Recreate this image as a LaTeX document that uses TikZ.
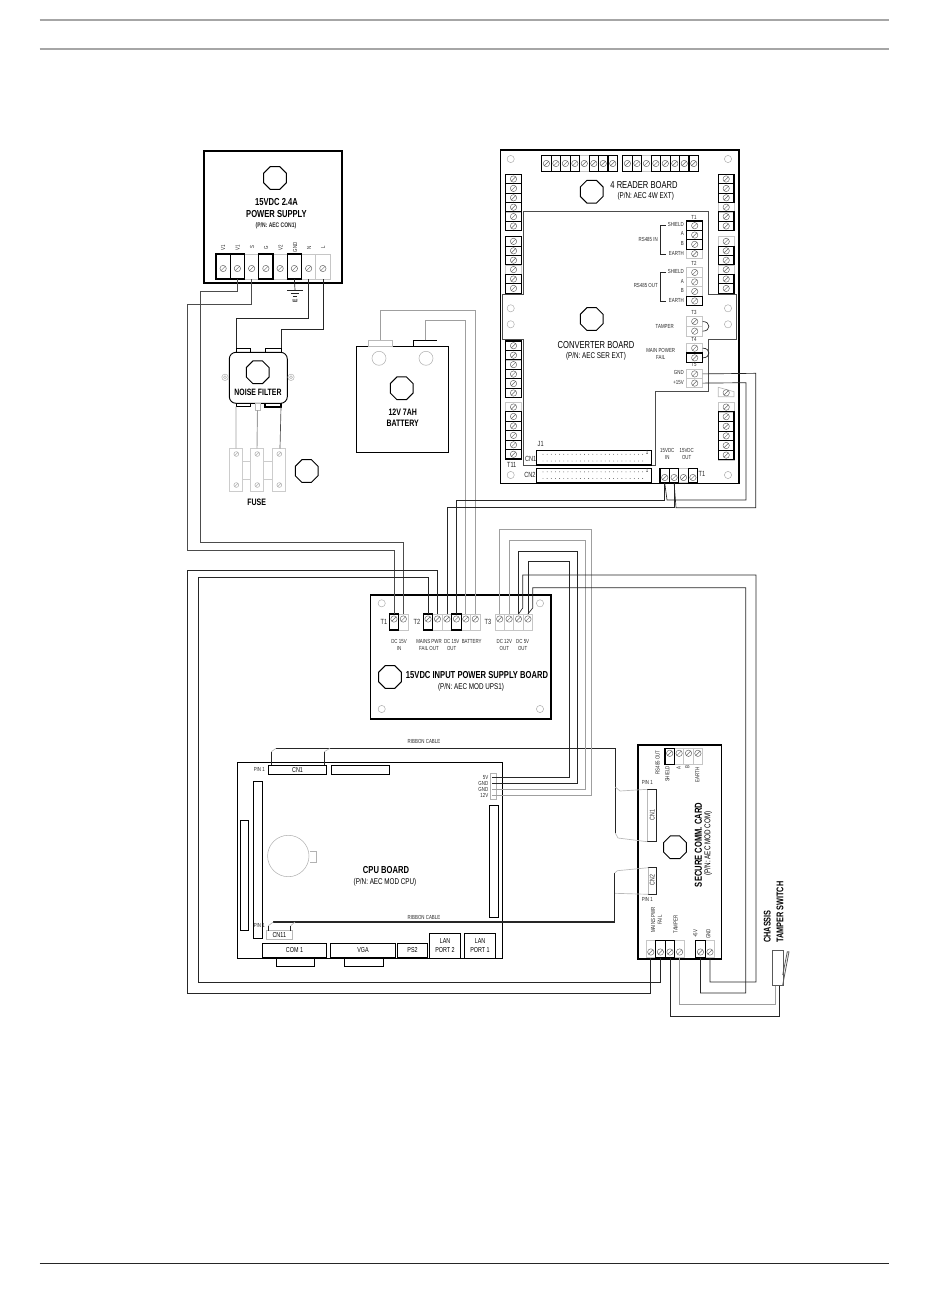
\documentclass[tikz,border=0pt]{standalone}
\usepackage{fontspec}
\setmainfont[FakeStretch=0.75]{Liberation Sans}
\usetikzlibrary{shapes.geometric,calc}

% Terminal strips: name, start, pitch, size, screw offset, count, black ones
\newcommand{\hstrip}[8]{
  \foreach \k in {1,...,#7} {
    \node[trm={#4}{#5}{#6}] (#1\k) at ({#2+(\k-0.5)*#4},#3) {};
  }
  \foreach \k in {#8} {
    \ifnum\k>0 \draw[trmb] (#1\k.south west) rectangle (#1\k.north east); \fi
  }
}
\newcommand{\vstrip}[7]{
  \foreach \k in {1,...,#6} {
    \node[trm={#4}{#5}{0}] (#1\k) at (#2,{#3+(\k-0.5)*#5}) {};
  }
  \foreach \k in {#7} {
    \ifnum\k>0 \draw[trmb] (#1\k.south west) rectangle (#1\k.north east); \fi
  }
}
% Box between two corners, as a named node
\newcommand{\boxn}[7][]{
  \node[plain, #1, minimum width={(#5-#3)*0.75pt}, minimum height={(#6-#4)*0.75pt}] (#2) at ({(#3+#5)/2},{(#4+#6)/2}) {#7};
}

\tikzset{
  plain/.style={draw=black, line width=0.7pt, inner sep=0pt, outer sep=0pt, align=center, font=\fontsize{5.4}{6.6}\selectfont},
  board/.style={line width=1.1pt},
  pale/.style={draw=gray!55, line width=0.5pt},
  trm/.style n args={3}{draw=gray!45, line width=0.5pt, inner sep=0pt, outer sep=0pt,
    minimum width=#1*0.75pt, minimum height=#2*0.75pt,
    path picture={\draw[gray!80!black, line width=0.35pt] ([yshift=#3*0.75pt]path picture bounding box.center) circle (2.4pt) +(-1.7pt,-1.7pt) -- +(1.7pt,1.7pt);}},
  trmb/.style={draw=black, line width=0.8pt},
  octa/.style={draw=black, line width=0.7pt, regular polygon, regular polygon sides=8, minimum size=18.5pt, inner sep=0pt},
  hole/.style={draw=gray!60, line width=0.4pt},
  wire/.style={draw=black!85, line width=0.5pt},
  wireg/.style={draw=gray!75, line width=0.7pt},
  rule/.style={draw=gray!70, line width=1.3pt},
  ttl/.style={inner sep=0pt, align=center, font=\bfseries\fontsize{7.6}{9}\selectfont},
  ttlr/.style={inner sep=0pt, align=center, font=\fontsize{7.6}{9}\selectfont},
  sublbl/.style={inner sep=0pt, align=center, font=\fontsize{6.3}{7.2}\selectfont},
  lbl/.style={inner sep=0pt, align=center, text=black!85, font=\fontsize{4.4}{5.1}\selectfont},
}

\begin{document}
\begin{tikzpicture}[x=0.75pt,y=-0.75pt]
  \useasboundingbox (0,0) rectangle (950,1289);

  % Page rules
  \draw[rule] (39.5,20) -- (889,20);
  \draw[rule] (39.5,49) -- (889,49);
  \draw[gray!30!black, line width=0.9pt] (39.5,1263.3) -- (889,1263.3);

  % Power supply
  \boxn[line width=1.9pt]{psu}{204}{151}{342}{283}{}
  \hstrip{ps}{216}{266.5}{14.25}{25}{-2}{8}{1,2,4,6}
  \node[ttl] (psuTitle) at (276.5,208) {15VDC 2.4A\\POWER SUPPLY};
  \node[lbl, font=\fontsize{5}{6}\bfseries\selectfont] (psuPn) at (276,226) {(P/N: AEC CON1)};
  \foreach \tx/\ta [count=\n] in {223/V1,237.5/V1,252/S,266/G,280.5/V2,295/GND,309/N,323/L} {
    \node[lbl, rotate=90] (psuLbl\n) at (\tx,247.5) {\ta};
  }
  % Earth
  \coordinate (earthTop) at (295,290);
  \draw[wire] (ps6.south) -- (earthTop);
  \draw[wire] (287.3,290) -- (302.7,290) (290.7,293.3) -- (299.3,293.3) (293.3,296) -- (296.7,296);
  \node[lbl, rotate=90, font=\fontsize{5}{6}\bfseries\selectfont] (earthLbl) at (295,301) {E};

  % Noise filter and fuse
  \boxn[rounded corners=5pt]{flt}{229.3}{352.3}{287.3}{403.3}{}
  \boxn{fltIn1}{236.7}{348.3}{250.7}{352.3}{}
  \boxn{fltIn2}{265.3}{348.3}{281}{352.3}{}
  \boxn{fltOut1}{236}{403.3}{250.7}{406.5}{}
  \boxn[pale]{fltOut2}{255}{403.3}{260}{410}{}
  \boxn[line width=1pt]{fltOut3}{265}{403.3}{281}{407}{}
  \draw[hole] (225,377.3) circle (3.2) (291,377.3) circle (3.2);
  \draw[hole] (225,377.3) circle (1.5) (291,377.3) circle (1.5);
  \node[ttl, font=\bfseries\fontsize{6.9}{8}\selectfont] (fltLbl) at (258,392.3) {NOISE FILTER};
  \foreach \fx/\fb in {229.3/a,250.3/b,272.3/c} {
    \boxn[pale, draw=gray!40]{fuse\fb}{\fx}{448.3}{\fx+13.4}{491}{}
    \draw[hole] (\fx+7,454) circle (2.4) +(-1.6,1.6) -- +(1.6,-1.6);
    \draw[hole] (\fx+7,485) circle (2.4) +(-1.6,1.6) -- +(1.6,-1.6);
  }
  \draw[draw=gray!40, line width=0.5pt] (fuseb.west |- 0,461.7) -- (fusea.east |- 0,461.7);
  \draw[draw=gray!40, line width=0.5pt] (fuseb.west |- 0,479.3) -- (fusea.east |- 0,479.3);
  \draw[draw=gray!40, line width=0.5pt] (fuseb.east |- 0,461.7) -- (fusec.west |- 0,461.7);
  \draw[draw=gray!40, line width=0.5pt] (fuseb.east |- 0,479.3) -- (fusec.west |- 0,479.3);
  \node[ttl, font=\bfseries\fontsize{7}{8}\selectfont] (fuseLbl) at (256.7,502.3) {FUSE};
  \draw[wireg] (fltOut1.south west) -- (fusea.north);
  \draw[wireg] (fltOut2.south) -- (fuseb.north);
  \draw[wire, draw=gray!60!black] (fltOut3.south east) -- (280,448.3);

  % Battery
  \boxn{bat}{356.7}{346}{448.3}{452.7}{}
  \boxn[pale]{batP1}{368.3}{340.3}{392.7}{346}{}
  \boxn[draw=none]{batP2}{413.3}{340.3}{436.7}{346}{}
  \draw[line width=0.9pt] (batP2.north west) -- (batP2.north east);
  \draw[line width=0.6pt] (batP2.north west) -- (batP2.south west);
  \draw[hole] (379,358.3) circle (7) (426,358.3) circle (7);
  \node[ttl, font=\bfseries\fontsize{7}{8.6}\selectfont] (batLbl) at (402.7,418) {12V 7AH\\BATTERY};

  % 4 reader board with converter board
  \boxn[board]{rdr}{500.7}{150}{739}{483.3}{}
  \draw[gray!60!black, line width=0.7pt] (523.3,211.7) -- (708.3,211.7) -- (708.3,294.3) -- (736,294.3) -- (736,339.3) -- (708.3,339.3) -- (708.3,391.7) -- (655,391.7) -- (655,465) -- (523.3,465) -- (523.3,339.3) -- (502.3,339.3) -- (502.3,294.3) -- (523.3,294.3) -- cycle;
  \foreach \hx/\hy in {510.7/159,728/159,510.7/308.3,510.7/324.3,728/308.3,728/324.3,510.7/475,728/475} {
    \draw[hole] (\hx,\hy) circle (3.6);
  }
  \hstrip{rdTa}{541.7}{163.5}{9.47}{15.6}{0}{8}{1,2,3,4,6,7,8}
  \hstrip{rdTb}{622.7}{163.5}{9.47}{15.6}{0}{8}{1,2,4,5,6,7,8}
  \vstrip{rdLa}{513.5}{174.3}{15.6}{9.4}{6}{1,2,3,4,5,6}
  \vstrip{rdLb}{513.5}{236.7}{15.6}{9.4}{6}{1,2,3,5,6}
  \vstrip{rdLc}{513.5}{341}{15.6}{9.45}{6}{1,2,3,4,5,6}
  \vstrip{rdLd}{513.5}{402.3}{15.6}{9.45}{6}{2,3,4,5,6}
  \vstrip{rdRa}{726.2}{174.3}{15.6}{9.4}{6}{1,2,3,5,6}
  \vstrip{rdRb}{726.2}{236.7}{15.6}{9.4}{6}{2,3,5,6}
  \vstrip{rdRc}{726.2}{402.3}{15.6}{9.6}{6}{2,3,4,5,6}
  % Skewed terminal above the last strip
  \draw[pale] (718.3,387.3) -- (734,391.7) -- (734,396.7) -- (718.3,396.7) -- cycle;
  \draw[gray!80!black, line width=0.35pt] (726.2,392.8) circle (3.2) +(-2.2,2.2) -- +(2.2,-2.2);
  \vstrip{cvA}{694.7}{221}{16}{9.35}{4}{1,2,3}
  \vstrip{cvB}{694.7}{267.7}{16}{9.5}{4}{4}
  \vstrip{cvC}{694.7}{316.7}{16}{9.65}{2}{0}
  \vstrip{cvD}{694.7}{343.3}{16}{9.7}{2}{2}
  \vstrip{cvE}{694.7}{369.3}{16}{9.2}{2}{0}
  \hstrip{cvT}{660}{475.5}{9.4}{14.4}{-2}{4}{1,2,4}
  \draw[wire] (cvC1.east) to[out=0, in=0, looseness=2.2] (cvC2.east);
  \draw[wire] (cvD1.east) to[out=0, in=0, looseness=2.2] (cvD2.east);
  \boxn[line width=1pt]{cvJ1}{536.7}{450.7}{651.7}{465}{}
  \boxn[line width=1pt]{cvJ2}{536.7}{468.3}{651.7}{482.3}{}
  \foreach \i in {0,...,24} {
    \fill[gray!70!black] (543+\i*4.15,454.3) circle (0.45) (543+\i*4.15,461) circle (0.45);
    \fill[gray!70!black] (543+\i*4.15,471.8) circle (0.45) (543+\i*4.15,478.5) circle (0.45);
  }
  \node[octa] (rdOct) at (591.7,191.7) {};
  \node[octa] (cvOct) at (591.7,319) {};
  \node[ttlr] (rdTitle) at (644,185) {4 READER BOARD};
  \node[sublbl] (rdPn) at (645.7,196) {(P/N: AEC 4W EXT)};
  \node[ttlr] (cvTitle) at (596,345) {CONVERTER BOARD};
  \node[sublbl] (cvPn) at (596,356.7) {(P/N: AEC SER EXT)};
  % Small converter labels
  \foreach \tx/\ty/\ta [count=\n] in {694/217.3/T1,694/263.3/T2,694/312.7/T3,694/339/T4,694/365/T5,
      660.7/353.7/{MAIN POWER\\FAIL},667.3/453.7/{15VDC\\IN},686.7/453.7/{15VDC\\OUT},647/452/1,647/470/1} {
    \node[lbl] (cvLbl\n) at (\tx,\ty) {\ta};
  }
  \foreach \ty/\ta [count=\n] in {224/SHIELD,233.7/A,243.3/B,253.3/EARTH,271.7/SHIELD,281/A,290.3/B,300/EARTH,372.3/GND,382.3/+15V} {
    \node[lbl, anchor=east] (cvPin\n) at (684,\ty) {\ta};
  }
  \node[lbl, anchor=east] (rsIn) at (658,239) {RS485 IN};
  \node[lbl, anchor=east] (rsOut) at (658,285.7) {RS485 OUT};
  \node[lbl, anchor=east] (tmpr) at (674,326) {TAMPER};
  \draw[wire] (665.7,225.7) -- (660.7,225.7) -- (660.7,254.3) -- (665.7,254.3);
  \draw[wire] (665.7,272.3) -- (660.7,272.3) -- (660.7,301) -- (665.7,301);
  \foreach \tx/\ty/\ta [count=\n] in {540.7/444/J1,530.7/459.3/CN1,511.7/465/T11,530/475/CN2,702/474/T1} {
    \node[lbl, font=\fontsize{5.6}{6}\selectfont] (rdLbl\n) at (\tx,\ty) {\ta};
  }

  % 15VDC input power supply board
  \boxn[board]{ups}{370.7}{595}{551}{719}{}
  \foreach \hx/\hy in {381.7/603.3,540/603.3,381.7/709,540/709} {
    \draw[hole] (\hx,\hy) circle (3.6);
  }
  \hstrip{upsA}{389.3}{622}{9.35}{16}{3}{2}{1}
  \hstrip{upsB}{423.3}{622}{9.45}{16}{3}{6}{1,4}
  \hstrip{upsC}{495}{622}{9.4}{16}{3}{4}{0}
  \node[octa] (upsOct) at (390,677) {};
  \node[ttl] (upsTitle) at (477,675) {15VDC INPUT POWER SUPPLY BOARD};
  \node[sublbl] (upsPn) at (471,687) {(P/N: AEC MOD UPS1)};
  \foreach \tx/\ta [count=\n] in {384/T1,417/T2,488/T3} {
    \node[lbl, font=\fontsize{5.6}{6}\selectfont] (upsT\n) at (\tx,622) {\ta};
  }
  \foreach \tx/\ta [count=\n] in {399/{DC 15V\\IN},429/{MAINS PWR\\FAIL OUT},451.7/{DC 15V\\OUT},504.3/{DC 12V\\OUT},522.7/{DC 5V\\OUT}} {
    \node[lbl] (upsLbl\n) at (\tx,645) {\ta};
  }
  \node[lbl] (upsBatt) at (471.7,641.7) {BATTERY};

  % CPU board
  \boxn[board]{cpu}{237.3}{762.7}{502.7}{958.3}{}
  \boxn{cpuCN1}{268.3}{765.3}{326.7}{774.7}{CN1}
  \boxn{cpuHdr}{331.7}{765.3}{389.7}{774.7}{}
  \boxn{cpuSlotA}{253.3}{781.3}{262.3}{938.3}{}
  \boxn{cpuSlotB}{240.3}{820.3}{248.7}{930.3}{}
  \boxn{cpuSlotC}{489.3}{805.3}{498.3}{917.3}{}
  \boxn[pale]{cpuCN11}{266.3}{930.7}{292.3}{939.3}{CN11}
  \boxn{cpuCom}{262.3}{943.3}{326.7}{957.7}{COM 1}
  \boxn{cpuComD}{276.3}{957.7}{314.7}{966.7}{}
  \boxn{cpuVga}{330.3}{943.3}{395.7}{957.7}{VGA}
  \boxn{cpuVgaD}{344.3}{957.7}{383.3}{966.7}{}
  \boxn{cpuPs2}{397.3}{943.3}{427.7}{957.7}{PS2}
  \boxn{cpuLan2}{429.3}{933.3}{460.7}{958.3}{LAN\\PORT 2}
  \boxn{cpuLan1}{464.3}{933.3}{495.7}{958.3}{LAN\\PORT 1}
  \draw[hole] (288.3,856) circle (20.7);
  \draw[hole] (310,851.7) -- (316.7,851.7) -- (316.7,862.7) -- (310,862.7);
  \node[ttl] (cpuTitle) at (386,870) {CPU BOARD};
  \node[sublbl] (cpuPn) at (385,882.7) {(P/N: AEC MOD CPU)};
  \foreach \tx/\ty/\ta [count=\n] in {259.3/769.3/PIN 1,259.3/925.7/PIN 1,424/741.7/RIBBON CABLE,424/917/RIBBON CABLE} {
    \node[lbl] (cpuLbl\n) at (\tx,\ty) {\ta};
  }
  % Header pins
  \draw[hole] (490.7,773.3) rectangle (496.7,799.3);
  \foreach \py/\ta [count=\n] in {777.3/5V,783.3/GND,789.3/GND,795.3/12V} {
    \coordinate (cpuP\n) at (491.7,\py);
    \node[lbl, anchor=east] (cpuPinLbl\n) at (488.5,\py) {\ta};
  }

  % Secure comm card
  \boxn[board]{sec}{638}{745}{721.7}{959}{}
  \hstrip{secA}{665}{756.3}{9.4}{16}{3}{4}{1}
  \hstrip{secB}{646}{949.3}{9.6}{17}{-2.7}{4}{2,3}
  \hstrip{secC}{695.7}{949.3}{9.5}{17}{-2.7}{2}{1}
  \boxn[pale]{secCN1}{647.3}{789.3}{656}{841.7}{}
  \draw[wire, line width=0.7pt] (secCN1.north west) -- (secCN1.north east) -- (secCN1.south east) -- (secCN1.south west);
  \boxn[pale]{secCN2}{648.3}{867.7}{656.3}{894.3}{}
  \draw[wire, line width=0.7pt] (secCN2.north west) -- (secCN2.north east) -- (secCN2.south east) -- (secCN2.south west);
  \node[octa] (secOct) at (675,847.3) {};
  \node[ttl, rotate=90] (secTitle) at (698.3,845) {SECURE COMM. CARD};
  \node[sublbl, rotate=90] (secPn) at (708.3,843.3) {(P/N: AEC MOD COM)};
  \foreach \tx/\ty/\ta [count=\n] in {657.7/762.3/RS485 OUT,667.3/774/SHIELD,678.7/768.3/A,687.3/767.3/B,697.3/775/EARTH,
      656.5/920/{MAINS PWR\\FAIL},675.7/924.3/TAMPER,695.3/934/+5V,708.3/934/GND} {
    \node[lbl, rotate=90] (secLbl\n) at (\tx,\ty) {\ta};
  }
  \node[lbl, rotate=90, font=\fontsize{5.2}{6}\selectfont] (secCn1Lbl) at (652.3,815) {CN1};
  \node[lbl, rotate=90, font=\fontsize{5.2}{6}\selectfont] (secCn2Lbl) at (652.3,880) {CN2};
  \node[lbl] (secPinA) at (647.3,782.7) {PIN 1};
  \node[lbl] (secPinB) at (647.3,899) {PIN 1};

  % Tamper switch
  \boxn[pale, draw=gray!70!black]{swBody}{772.7}{950}{783.3}{985.7}{}
  \draw[gray!70!black, line width=0.6pt] (782.7,985) -- (789,951.7) -- (787.3,951.7) -- (782.7,975);
  \node[ttl, rotate=90, anchor=north west, align=left, font=\bfseries\fontsize{7.3}{9.6}\selectfont] (swLbl) at (763.5,943) {CHASSIS\\TAMPER SWITCH};

  % Ribbon cables
  \draw[wire, line width=0.8pt] (276,748.3) -- (615.3,748.3) -- (615.3,833);
  \draw[wire] (271.3,765.3) -- (271.3,751.7) (324.3,765.3) -- (324.3,751.7);
  \draw[pale] (271.3,751.7) -- (276,748.3) (324.3,751.7) -- (330,748.3);
  \draw[pale] (615.3,787) -- (620,791) -- (secCN1.north west);
  \draw[pale] (615.3,833) -- (618,838) -- (secCN1.south west);
  \draw[wire, line width=0.9pt] (273.3,922) -- (614.7,922) -- (614.7,873);
  \draw[wire] (268.3,930.7) -- (268.3,925.7) (290.7,930.7) -- (290.7,925.7);
  \draw[pale] (268.3,925.7) -- (273.3,922) (290.7,925.7) -- (295,922);
  \draw[pale] (614.7,873) -- (617.3,870.7) -- (secCN2.north west);
  \draw[pale] (615,893.3) -- (secCN2.south west);

  % Wiring
  \draw[wire, draw=gray!60!black] (ps2.south) -- ++(0,12) -| (200,542) -| (upsA2.north);
  \draw[wire, draw=gray!60!black] (ps3.south) -- ++(0,25) -| (187,550) -| (upsA1.north);
  \draw[wire] (ps7.south) -- ++(0,39) -| (fltIn1.north west);
  \draw[wire] (ps8.south) -- ++(0,50) -| (fltIn2.north east);
  \draw[wireg] (batP1.north) -- ++(0,-30) -| (upsB6.north);
  \draw[wireg] (batP2.north) -- ++(0,-20) -| (upsB5.north);
  \draw[wire] (upsB4.north) -- ++(0,-114) -| (cvT1.south);
  \draw[wire] (upsB3.north) -- ++(0,-106.3) -| (cvT2.south);
  \draw[wire] (cvT1.south) -- (667,500) -| (746,382.7) -- (cvE2.east);
  \draw[wire] (cvT2.south) -- (676,507.7) -| (755.7,373.3) -- (cvE1.east);
  \draw[wire] (upsB1.north) -- ++(0,-37) -| (198,982) -| (secB2.south);
  \draw[wire] (upsB2.north) -- ++(0,-44) -| (187,993) -| (secB1.south);
  \draw[wireg] (upsC1.north) |- (591,529.3) |- (cpuP4);
  \draw[wireg] (upsC2.north) |- (585.3,540) |- (cpuP3);
  \draw[wire] (upsC3.north) |- (577.3,551.7) |- (cpuP2);
  \draw[wire] (upsC4.north) |- (569.3,561.7) |- (cpuP1);
  \draw[wire] (secC2.south) |- (756,982) |- (522.7,575) -- (522.7,608) -- (upsC3.north);
  \draw[wire] (secC1.south) |- (745.7,993) |- (532.7,587.7) -- (532.7,608) -- (upsC4.north);
  \draw[wire] (secB3.south) -- ++(0,59) -| ([xshift=0.8pt]swBody.south);
  \draw[wireg] (secB4.south) -- ++(0,47) -| ([xshift=-1.7pt]swBody.south);

  % Octagons last, over the boards
  \node[octa] (psuOct) at (275,178) {};
  \node[octa] (fltOct) at (257.7,372.3) {};
  \node[octa] (fuseOct) at (306.7,471) {};
  \node[octa] (batOct) at (401.7,388.3) {};
\end{tikzpicture}
\end{document}
